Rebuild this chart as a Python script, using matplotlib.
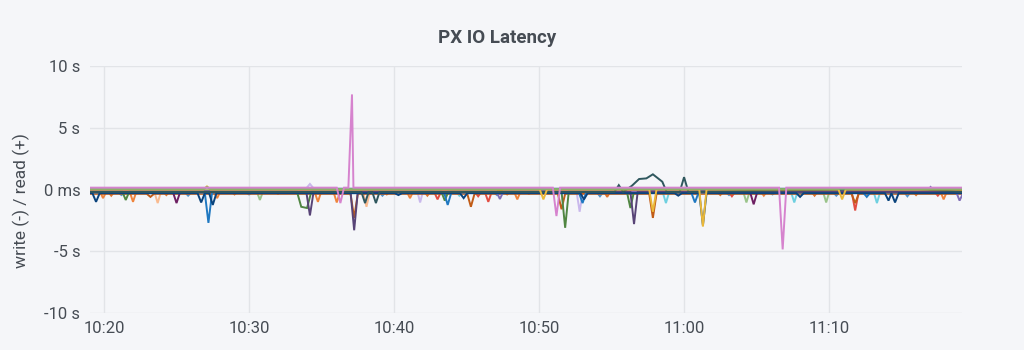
import matplotlib
matplotlib.use("Agg")
import matplotlib.pyplot as plt
import pandas as pd

plt.rcParams['font.family'] = ['Roboto', 'DejaVu Sans']

title = "PX IO Latency"
y_label = "write (-) / read (+)"
y_ticks = [-10, -5, 0, 5, 10]
y_tick_labels = ["-10 s", "-5 s", "0 ms", "5 s", "10 s"]
x_tick_labels = ["10:20", "10:30", "10:40", "10:50", "11:00", "11:10"]
base_time = "2021-01-01 10:20:00"

# Each series: sample times (minutes after 10:20) and latency values (s)
blue_t = [-1.0, 6.95, 7.2, 7.45, 23.45, 23.7, 23.95, 32.75, 33.0, 33.25, 40.5, 40.75, 41.0, 52.35, 52.6, 52.85, 59.2]
blue_v = [-0.25, -0.25, -2.7, -0.25, -0.25, -1.25, -0.25, -0.25, -1.1, -0.25, -0.25, -1.05, -0.25, -0.25, -0.6, -0.25, -0.25]

navy_t = [-1.0, -0.8, -0.55, -0.3, 6.45, 6.7, 6.95, 7.25, 7.5, 7.75, 20.05, 20.3, 20.55, 24.55, 24.8, 25.05,
          32.85, 33.1, 33.35, 39.35, 39.6, 39.85, 41.05, 41.3, 41.55, 47.75, 48.0, 48.25,
          53.85, 54.1, 54.3, 54.55, 54.8, 59.2]
navy_v = [-0.3, -0.3, -1.0, -0.3, -0.3, -1.05, -0.3, -0.3, -1.25, -0.3, -0.3, -0.45, -0.3, -0.3, -0.7, -0.3,
          -0.3, -0.8, -0.3, -0.3, -0.5, -0.3, -0.3, -2.9, -0.3, -0.3, -0.6, -0.3,
          -0.3, -0.9, -0.3, -1.05, -0.3, -0.3]

pink_t = [-1.0, 16.05, 16.3, 16.55, 16.85, 17.1, 17.2, 30.95, 31.2, 31.45, 46.55, 46.8, 47.05, 59.2]
pink_v = [0.15, 0.15, -1.1, 0.15, 0.15, 7.7, 0.15, 0.15, -2.15, 0.15, 0.15, -4.85, 0.15, 0.15]

violet_t = [-1.0, 13.95, 14.2, 14.45, 17.0, 17.25, 17.5, 36.3, 36.55, 36.8, 59.2]
violet_v = [-0.2, -0.2, -2.1, -0.2, -0.2, -3.3, -0.2, -0.2, -2.8, -0.2, -0.2]

dgreen_t = [-1.0, 1.25, 1.5, 1.75, 13.3, 13.6, 14.0, 14.3, 23.25, 23.5, 23.75, 31.55, 31.8, 32.05, 36.05, 36.3, 36.55, 59.2]
dgreen_v = [-0.15, -0.15, -0.85, -0.15, -0.15, -1.4, -1.5, -0.15, -0.15, -0.9, -0.15, -0.15, -3.1, -0.15, -0.15, -1.5, -0.15, -0.15]

brown_t = [-1.0, 2.95, 3.2, 3.45, 17.0, 17.25, 17.5, 25.05, 25.3, 25.55, 31.3, 31.55, 31.8, 37.6, 37.85, 38.1, 51.55, 51.8, 52.05, 59.2]
brown_v = [-0.35, -0.35, -0.6, -0.35, -0.35, -2.3, -0.35, -0.35, -1.4, -0.35, -0.35, -1.6, -0.35, -0.35, -2.3, -0.35, -0.35, -1.1, -0.35, -0.35]

orange_t = [-1.0, -0.3, -0.07, 0.2, 1.75, 2.0, 2.25, 7.55, 7.8, 8.05, 14.5, 14.75, 15.0, 15.8, 16.05, 16.3,
            20.85, 21.1, 21.35, 28.25, 28.5, 28.75, 45.25, 45.5, 45.75, 57.65, 57.9, 58.15, 59.2]
orange_v = [-0.1, -0.1, -0.7, -0.1, -0.1, -1.0, -0.1, -0.1, -0.7, -0.1, -0.1, -1.0, -0.1, -0.1, -1.05, -0.1,
            -0.1, -0.7, -0.1, -0.1, -0.8, -0.1, -0.1, -0.5, -0.1, -0.1, -0.8, -0.1, -0.1]

peach_t = [-1.0, 3.45, 3.7, 3.95, 17.85, 18.1, 18.35, 59.2]
peach_v = [-0.1, -0.1, -1.1, -0.1, -0.1, -1.4, -0.1, -0.1]

dpurple_t = [-1.0, 4.75, 5.0, 5.25, 44.55, 44.8, 45.05, 59.2]
dpurple_v = [-0.2, -0.2, -1.1, -0.2, -0.2, -1.2, -0.2, -0.2]

lgreen_t = [-1.0, 10.5, 10.75, 11.0, 44.05, 44.3, 44.55, 49.55, 49.8, 50.05, 59.2]
lgreen_v = [-0.05, -0.05, -0.85, -0.05, -0.05, -1.05, -0.05, -0.05, -1.05, -0.05, -0.05]

slate_t = [-1.0, 17.75, 18.0, 18.25, 18.5, 18.75, 19.0, 35.2, 35.5, 35.8, 36.4, 36.9, 37.4, 37.85, 38.5, 38.8,
           39.7, 40.0, 40.3, 54.3, 56.0, 59.2]
slate_v = [-0.2, -0.2, -1.1, -0.2, -0.2, -1.1, -0.2, -0.2, 0.35, -0.2, 0.3, 0.85, 0.9, 1.23, 0.63, -0.2,
           -0.2, 1.0, -0.2, 0.05, 0.05, -0.2]

red_t = [-1.0, 22.75, 23.0, 23.25, 25.55, 25.8, 26.05, 26.25, 26.5, 26.75, 43.05, 43.3, 43.55, 51.55, 51.8, 52.05,
         57.25, 57.5, 57.75, 59.2]
red_v = [-0.15, -0.15, -0.8, -0.15, -0.15, -0.55, -0.15, -0.15, -1.0, -0.15, -0.15, -0.55, -0.15, -0.15, -1.7, -0.15,
         -0.15, -0.5, -0.15, -0.15]

lblue_t = [-1.0, 24.25, 24.5, 24.75, 38.5, 38.75, 39.0, 47.35, 47.6, 47.85, 53.05, 53.3, 53.55, 59.2]
lblue_v = [-0.1, -0.1, -0.5, -0.1, -0.1, -1.1, -0.1, -0.1, -1.05, -0.1, -0.1, -1.1, -0.1, -0.1]

yellow_t = [-1.0, 6.85, 7.1, 7.35, 30.05, 30.3, 30.55, 37.6, 37.85, 38.1, 41.05, 41.3, 41.55, 50.65, 50.9, 51.15, 59.2]
yellow_v = [0.0, 0.0, 0.25, 0.0, 0.0, -0.8, 0.0, 0.0, -1.8, 0.0, 0.0, -3.0, 0.0, 0.0, -0.8, 0.0, 0.0]

lavender_t = [-1.0, 13.95, 14.2, 14.45, 21.55, 21.8, 22.05, 32.55, 32.8, 33.05, 59.2]
lavender_v = [0.1, 0.1, 0.45, 0.1, 0.1, -1.05, 0.1, 0.1, -1.8, 0.1, 0.1]

purple2_t = [-1.0, 27.05, 27.3, 27.55, 56.75, 57.0, 57.25, 58.75, 59.0, 59.2]
purple2_v = [-0.15, -0.15, -0.77, -0.15, -0.15, 0.2, -0.15, -0.15, -0.9, -0.4]

green_t = [-1.0, 6.9, 7.1, 7.3, 59.2]
green_v = [0.05, 0.05, 0.2, 0.05, 0.05]

rust_t = [-1.0, 0.3, 0.5, 0.7, 4.1, 4.3, 4.5, 8.8, 9.0, 9.2, 11.8, 12.0, 12.2, 19.3, 19.5, 19.7, 22.1, 22.3, 22.5,
          27.6, 27.8, 28.0, 29.1, 29.3, 29.5, 34.5, 34.7, 34.9, 42.3, 42.5, 42.7, 48.8, 49.0, 49.2, 55.8, 56.0, 56.2, 59.2]
rust_v = [-0.2, -0.2, -0.5, -0.2, -0.2, -0.45, -0.2, -0.2, -0.4, -0.2, -0.2, -0.35, -0.2, -0.2, -0.4, -0.2, -0.2, -0.5, -0.2,
          -0.2, -0.4, -0.2, -0.2, -0.35, -0.2, -0.2, -0.6, -0.2, -0.2, -0.45, -0.2, -0.2, -0.5, -0.2, -0.2, -0.45, -0.2, -0.2]

sky_t = [-1.0, 1.0, 1.2, 1.4, 5.6, 5.8, 6.0, 9.8, 10.0, 10.2, 19.0, 19.2, 19.4, 26.9, 27.1, 27.3, 34.0, 34.2, 34.4,
         42.9, 43.1, 43.3, 45.9, 46.1, 46.3, 50.3, 50.5, 50.7, 55.2, 55.4, 55.6, 59.2]
sky_v = [-0.25, -0.25, -0.45, -0.25, -0.25, -0.5, -0.25, -0.25, -0.4, -0.25, -0.25, -0.5, -0.25, -0.25, -0.45, -0.25,
         -0.25, -0.55, -0.25, -0.25, -0.45, -0.25, -0.25, -0.4, -0.25, -0.25, -0.5, -0.25, -0.25, -0.55, -0.25, -0.25]

series = [
    (peach_t, peach_v, '#F9BA8F'),
    (sky_t, sky_v, '#5195CE'),
    (rust_t, rust_v, '#E0752D'),
    (lavender_t, lavender_v, '#C9B8EC'),
    (lblue_t, lblue_v, '#6ED0E0'),
    (lgreen_t, lgreen_v, '#9AC48A'),
    (orange_t, orange_v, '#EF843C'),
    (red_t, red_v, '#E24D42'),
    (brown_t, brown_v, '#C15C17'),
    (dgreen_t, dgreen_v, '#508642'),
    (blue_t, blue_v, '#1F78C1'),
    (dpurple_t, dpurple_v, '#6D1F62'),
    (purple2_t, purple2_v, '#806EB7'),
    (violet_t, violet_v, '#584477'),
    (navy_t, navy_v, '#0A437C'),
    (slate_t, slate_v, '#2F575E'),
    (yellow_t, yellow_v, '#EAB839'),
    (green_t, green_v, '#7EB26D'),
    (pink_t, pink_v, '#D683CE'),
]

bg = '#f5f6f9'
text_c = '#464c54'
grid_c = '#e2e4e8'

fig = plt.figure(figsize=(10.24, 3.5), dpi=100, facecolor=bg)
ax = fig.add_axes([90 / 1024, 1 - 313 / 350, (962 - 90) / 1024, (313 - 66) / 350])
ax.set_facecolor(bg)

t0 = pd.Timestamp(base_time)
for ts, vs, col in series:
    times = t0 + pd.to_timedelta(ts, unit='min')
    ax.plot(times, vs, color=col, lw=1.4, solid_joinstyle='miter')

ax.set_ylim(-10, 10)
ax.set_xlim(t0 - pd.Timedelta(seconds=58), t0 + pd.Timedelta(minutes=59, seconds=10))
ax.set_yticks(y_ticks)
ax.set_yticklabels(y_tick_labels)
xt = [t0 + pd.Timedelta(minutes=10 * i) for i in range(len(x_tick_labels))]
ax.set_xticks(xt)
ax.set_xticklabels(x_tick_labels)

for s in ax.spines.values():
    s.set_visible(False)
ax.tick_params(length=0, colors=text_c, labelsize=12)
ax.tick_params(axis='y', pad=7)
ax.tick_params(axis='x', pad=6)
ax.grid(True, color=grid_c, lw=1)
ax.set_axisbelow(True)

fig.text(21 / 1024, 1 - 201 / 350, y_label, rotation=90, ha='center', va='center',
         color=text_c, fontsize=12.5)
fig.text(497 / 1024, 1 - 38 / 350, title, ha='center', va='center', fontsize=13.5,
         fontweight='bold', color=text_c)

fig.savefig('out.png', dpi=100, facecolor=bg)
